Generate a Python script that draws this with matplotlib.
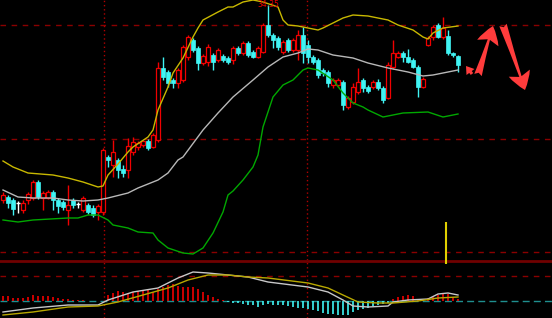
import matplotlib
matplotlib.use("Agg")
import matplotlib.pyplot as plt
import numpy as np

# daily candles (price)
opens = [24.60, 24.75, 24.60, 24.45, 24.10, 24.60, 24.70, 25.50, 24.70, 24.70,
         25.00, 24.60, 24.50, 24.10, 24.60, 24.40, 24.10, 24.35, 24.20, 24.00,
         24.00, 26.75, 26.35, 26.60, 26.15, 26.10, 27.00, 27.25, 27.35, 27.55,
         27.25, 27.60, 31.20, 31.00, 30.60, 30.45, 30.60, 31.75, 32.60, 32.20,
         31.45, 31.50, 31.85, 31.60, 31.80, 31.70, 31.60, 32.20, 31.95, 32.45,
         32.00, 31.75, 32.00, 33.35, 32.85, 32.70, 32.00, 32.60, 32.10, 32.10,
         32.85, 32.35, 31.75, 31.60, 31.10, 31.00, 30.35, 30.35, 30.50, 29.25,
         29.50, 30.00, 30.60, 30.25, 30.25, 30.50, 30.20, 29.70, 31.25, 31.75,
         31.95, 31.75, 31.60, 31.25, 30.25, 32.35, 32.75, 33.35, 32.75, 32.80,
         31.95, 31.80]
highs = [25.00, 24.85, 24.70, 24.55, 24.60, 25.00, 25.60, 25.60, 25.05, 25.10,
         25.10, 24.70, 24.60, 25.35, 24.70, 24.50, 24.80, 24.45, 24.35, 24.40,
         27.20, 26.85, 27.60, 26.70, 26.35, 27.70, 27.75, 27.55, 27.60, 27.65,
         27.95, 31.50, 31.75, 31.10, 30.70, 31.20, 32.35, 32.85, 32.70, 32.30,
         31.90, 32.40, 31.95, 32.20, 31.90, 31.80, 32.30, 32.30, 32.55, 32.55,
         32.10, 32.30, 33.45, 34.35, 32.95, 32.80, 32.60, 32.70, 32.70, 33.10,
         33.25, 32.60, 31.85, 31.70, 31.20, 31.10, 30.70, 30.70, 30.60, 29.80,
         30.45, 31.20, 30.70, 30.35, 30.60, 30.65, 30.30, 31.50, 32.60, 32.05,
         32.05, 32.15, 31.70, 31.35, 30.75, 32.80, 33.35, 33.45, 33.75, 33.10,
         32.00, 31.85]
lows = [24.45, 24.20, 23.85, 23.95, 23.95, 24.40, 24.60, 24.65, 24.10, 24.65,
        24.10, 23.95, 24.10, 23.35, 24.20, 24.20, 24.00, 23.90, 23.75, 23.60,
        23.85, 26.25, 25.75, 25.70, 25.75, 25.70, 26.85, 27.10, 27.25, 27.10,
        27.20, 27.50, 30.60, 30.25, 30.20, 30.20, 30.50, 31.60, 32.00, 31.10,
        31.35, 31.30, 31.10, 31.50, 31.50, 31.40, 31.40, 31.85, 31.85, 31.75,
        31.70, 31.70, 31.95, 32.75, 32.20, 32.10, 31.90, 32.00, 32.00, 31.60,
        31.45, 31.45, 31.40, 30.70, 30.80, 30.25, 30.20, 30.25, 29.10, 29.15,
        29.40, 29.90, 30.00, 29.95, 30.15, 30.10, 29.45, 29.65, 31.15, 31.70,
        31.50, 31.45, 31.20, 29.75, 30.20, 32.30, 32.60, 32.70, 32.65, 31.85,
        31.75, 31.00]
closes = [24.85, 24.45, 24.15, 24.45, 24.45, 24.90, 25.50, 24.75, 24.95, 25.00,
          24.60, 24.30, 24.25, 24.35, 24.35, 24.40, 24.70, 24.00, 23.85, 24.30,
          27.10, 26.60, 27.00, 26.10, 25.95, 27.30, 27.50, 27.45, 27.55, 27.20,
          27.85, 31.20, 30.75, 30.45, 30.45, 31.10, 32.25, 32.75, 32.10, 31.45,
          31.80, 32.25, 31.50, 32.10, 31.60, 31.50, 32.20, 31.95, 32.45, 31.85,
          31.75, 32.20, 33.35, 32.85, 32.60, 32.25, 32.50, 32.10, 32.60, 32.85,
          31.95, 31.75, 31.50, 30.85, 30.95, 30.45, 30.60, 30.60, 29.35, 29.70,
          30.25, 30.50, 30.20, 30.05, 30.50, 30.20, 29.60, 31.35, 31.95, 31.95,
          31.75, 31.50, 31.25, 30.25, 30.65, 32.70, 33.25, 32.75, 33.20, 31.95,
          31.85, 31.35]

# bollinger bands, read at some candle indices
upper_idx = [0, 2, 5, 10, 13, 16, 19, 20, 21, 23, 25, 26, 29, 30, 31, 33, 34, 36, 38, 39,
             40, 43, 45, 46, 48, 50, 52, 55, 56, 57, 59, 62, 63, 64, 66, 68, 70, 73, 77, 79,
             82, 84, 85, 86, 88, 91]
upper_val = [26.55, 26.25, 25.95, 25.85, 25.70, 25.50, 25.25, 25.30, 25.85, 26.40,
             27.00, 27.25, 27.75, 28.10, 29.10, 30.25, 30.95, 31.70, 32.75, 33.20,
             33.60, 34.00, 34.25, 34.25, 34.50, 34.60, 34.50, 34.25, 33.60, 33.35,
             33.30, 33.15, 33.10, 33.20, 33.45, 33.70, 33.85, 33.80, 33.60, 33.35,
             33.10, 32.75, 32.65, 32.95, 33.20, 33.30]
mid_idx = [0, 3, 6, 10, 13, 16, 19, 21, 25, 27, 31, 33, 35, 36, 40, 43, 46, 50, 53, 56,
           59, 61, 63, 66, 70, 73, 77, 81, 84, 86, 89, 91]
mid_val = [25.10, 24.75, 24.70, 24.70, 24.60, 24.55, 24.60, 24.70, 24.95, 25.20,
           25.60, 25.95, 26.60, 26.75, 28.10, 28.95, 29.75, 30.60, 31.25, 31.75,
           31.95, 32.15, 32.10, 31.85, 31.70, 31.45, 31.20, 31.00, 30.80, 30.85,
           31.00, 31.10]
lower_idx = [0, 3, 6, 13, 15, 17, 19, 21, 22, 25, 27, 30, 31, 33, 36, 38, 40, 42, 44, 45,
             46, 48, 50, 51, 52, 54, 56, 58, 60, 61, 63, 66, 68, 70, 72, 73, 76, 80, 85, 88,
             91]
lower_val = [23.60, 23.50, 23.60, 23.70, 23.70, 23.85, 23.85, 23.60, 23.35, 23.20,
             23.00, 22.95, 22.60, 22.20, 21.95, 21.90, 22.20, 22.95, 24.00, 24.85,
             25.05, 25.60, 26.25, 26.85, 28.25, 29.75, 30.35, 30.60, 31.10, 31.20,
             31.10, 30.60, 29.95, 29.45, 29.25, 29.10, 28.75, 28.95, 29.00, 28.75,
             28.90]

# MACD
macd_hist = [0.10, 0.10, 0.06, 0.06, 0.06, 0.08, 0.12, 0.10, 0.10, 0.10,
             0.08, 0.06, 0.04, 0.04, 0.02, 0.02, 0.02, 0.01, 0.01, 0.00,
             0.00, 0.12, 0.16, 0.20, 0.18, 0.16, 0.18, 0.20, 0.20, 0.22,
             0.18, 0.24, 0.28, 0.32, 0.34, 0.30, 0.28, 0.28, 0.28, 0.24,
             0.18, 0.12, 0.08, 0.04, 0.02, -0.02, -0.04, -0.04, -0.06, -0.08,
             -0.08, -0.12, -0.08, -0.06, -0.08, -0.08, -0.08, -0.10, -0.12, -0.14,
             -0.14, -0.16, -0.18, -0.20, -0.24, -0.26, -0.26, -0.28, -0.28, -0.28,
             -0.22, -0.18, -0.16, -0.14, -0.10, -0.08, -0.06, -0.04, 0.04, 0.08,
             0.10, 0.12, 0.10, 0.04, 0.02, 0.06, 0.08, 0.12, 0.16, 0.14,
             0.08, 0.04]
dif_idx = [0, 6, 13, 19, 21, 26, 31, 33, 35, 38, 41, 45, 49, 53, 61, 65, 68, 70, 73, 77,
           78, 81, 85, 87, 89, 91]
dif_val = [-0.22, -0.14, -0.08, -0.08, 0.02, 0.18, 0.26, 0.36, 0.46, 0.58,
           0.56, 0.52, 0.48, 0.38, 0.28, 0.18, 0.02, -0.10, -0.12, -0.10,
           -0.02, 0.02, 0.04, 0.14, 0.16, 0.12]
dea_idx = [0, 6, 13, 19, 23, 28, 33, 37, 41, 45, 49, 53, 61, 65, 68, 71, 75, 78, 83, 87, 91]
dea_val = [-0.28, -0.22, -0.12, -0.10, -0.02, 0.12, 0.26, 0.42, 0.52, 0.52,
           0.48, 0.46, 0.36, 0.26, 0.12, -0.02, -0.04, -0.04, 0.00, 0.06, 0.08]

red = "#f00000"
cyan = "#40f4f4"
grid_red = "#8a0000"

o = np.array(opens)
h = np.array(highs)
l = np.array(lows)
c = np.array(closes)
x = np.arange(len(o))

fig = plt.figure(figsize=(5.52, 3.18), dpi=100, facecolor="black")
ax = fig.add_axes([0, 58 / 318, 1, 260 / 318])
ax2 = fig.add_axes([0, 0, 1, 58 / 318], sharex=ax)
for a in (ax, ax2):
    a.set_facecolor("black")
    a.set_axis_off()

ax.set_xlim(-0.6, 109.8)
ax.set_ylim(21.6, 34.6)
ax2.set_ylim(-0.34, 0.82)

# grid
for yv in (33.35, 27.65, 22.0):
    ax.axhline(yv, color=grid_red, lw=1, ls=(0, (4, 4)), zorder=0)
ax2.axhline(0.5, color=grid_red, lw=1, ls=(0, (4, 4)), zorder=0)
ax2.axhline(0.0, color="#1f8f8f", lw=1, ls=(0, (5, 3)), zorder=0)
for a in (ax, ax2):
    for xv in (20.2, 60.8):
        a.axvline(xv, color="#b00000", lw=1, ls=(0, (1, 2)), zorder=0)
ax2.axhline(0.805, color="#700000", lw=2, zorder=1)

# candles
up = c > o
dn = c < o
fl = c == o
ax.vlines(x[up], l[up], h[up], color=red, lw=1, zorder=2)
ax.bar(x[up], c[up] - o[up], bottom=o[up], width=0.72, facecolor="black",
       edgecolor=red, lw=0.9, zorder=3)
ax.vlines(x[dn], l[dn], h[dn], color=cyan, lw=1, zorder=2)
ax.bar(x[dn], o[dn] - c[dn], bottom=c[dn], width=0.72, facecolor=cyan,
       edgecolor=cyan, lw=0.5, zorder=3)
ax.vlines(x[fl], l[fl], h[fl], color="white", lw=1, zorder=2)
ax.hlines(c[fl], x[fl] - 0.36, x[fl] + 0.36, color="white", lw=1, zorder=3)

# bands
ax.plot(upper_idx, upper_val, color="#c8b800", lw=1, zorder=4)
ax.plot(mid_idx, mid_val, color="#b8b8b8", lw=1, zorder=4)
ax.plot(lower_idx, lower_val, color="#00a800", lw=1, zorder=4)

# max label
imax = int(np.argmax(h))
ax.text(imax, 34.6, f"{h[imax]:.2f}", color=red, fontsize=5.5,
        ha="center", va="top", zorder=5)

ax.vlines(88.6, 21.6, 23.5, color="#e0d000", lw=1.5, zorder=4)

# arrows
arrow_kw = dict(arrowstyle="fancy,head_length=0.8,head_width=1.0,tail_width=0.35",
                color="#ff3c3c", lw=0, mutation_scale=16, shrinkA=0, shrinkB=0)
ax.annotate("", xy=(98.0, 33.3), xytext=(95.0, 30.85), arrowprops=arrow_kw)
ax.annotate("", xy=(104.4, 30.1), xytext=(100.0, 33.35), arrowprops=arrow_kw)
small_kw = dict(arrowstyle="simple,head_length=0.6,head_width=0.8,tail_width=0.25",
                color="#ff3c3c", lw=0, mutation_scale=9, shrinkA=0, shrinkB=0)
ax.annotate("", xy=(92.6, 31.3), xytext=(93.8, 30.9), arrowprops=small_kw)

# macd panel
hist = np.array(macd_hist)
pos = hist >= 0
ax2.vlines(x[pos], 0, hist[pos], color=red, lw=1.2, zorder=2)
ax2.vlines(x[~pos], 0, hist[~pos], color=cyan, lw=1.2, zorder=2)
ax2.plot(dif_idx, dif_val, color="#c8c8c8", lw=1, zorder=3)
ax2.plot(dea_idx, dea_val, color="#b8a800", lw=1, zorder=3)
ax2.vlines(88.6, 0.75, 0.82, color="#e0d000", lw=1.5, zorder=4)

fig.savefig("out.png", dpi=100, facecolor="black")
